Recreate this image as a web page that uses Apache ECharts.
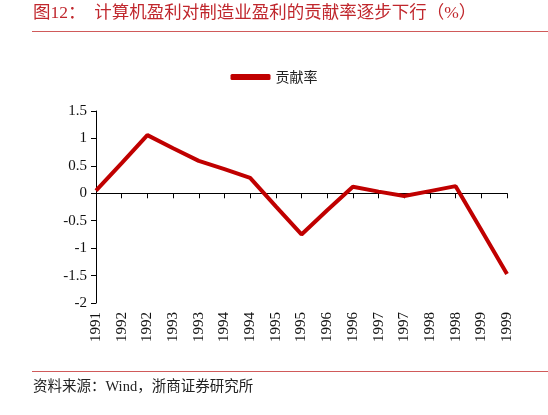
<!DOCTYPE html>
<html>
<head>
<meta charset="utf-8">
<script src="https://cdn.jsdelivr.net/npm/echarts@6/dist/echarts.min.js"></script>
<style>
html,body{margin:0;padding:0;background:#fff;}
#c{width:548px;height:415px;}
</style>
</head>
<body>
<div id="c"></div>
<script>
const categories = ['1991','1992','1992','1993','1993','1994','1994','1995','1995','1996','1996','1997','1997','1998','1998','1999','1999'];
const seriesName = '贡献率';
const values = [0.05, 0.55, 1.06, 0.82, 0.59, 0.44, 0.28, -0.24, -0.75, -0.31, 0.12, 0.03, -0.05, 0.04, 0.13, -0.67, -1.47];
const titleText = '图12：  计算机盈利对制造业盈利的贡献率逐步下行（%）';
const sourceText = '资料来源：Wind，浙商证券研究所';

const chart = echarts.init(document.getElementById('c'));
const serif = '"Liberation Serif", "Noto Sans CJK SC", serif';
chart.setOption({
  animation: false,
  backgroundColor: '#fff',
  graphic: [
    {type: 'text', left: 33, top: 5, style: {text: titleText, fill: '#c0272d', font: '17.5px "Liberation Serif", "Noto Sans CJK SC", serif'}},
    {type: 'line', shape: {x1: 32, y1: 31.5, x2: 548, y2: 31.5}, style: {stroke: '#d05a5a', lineWidth: 1.2}},
    {type: 'line', shape: {x1: 32, y1: 371.5, x2: 548, y2: 371.5}, style: {stroke: '#d05a5a', lineWidth: 1.2}},
    {type: 'text', left: 33, top: 380, style: {text: sourceText, fill: '#222', font: '14.5px "Liberation Serif", "Noto Sans CJK SC", serif'}}
  ],
  legend: {
    top: 65,
    left: 'center',
    icon: 'roundRect',
    itemWidth: 40,
    itemHeight: 6,
    itemGap: 4,
    textStyle: {fontFamily: '"Noto Sans CJK SC", serif', fontSize: 14, color: '#222'},
    data: [seriesName]
  },
  grid: {left: 96, right: 41, top: 111, bottom: 112, containLabel: false},
  xAxis: [
    {
      type: 'category', data: categories, boundaryGap: false, position: 'bottom',
      axisLine: {show: false, onZero: false}, axisTick: {show: false},
      axisLabel: {rotate: 90, interval: 0, margin: 9, color: '#111', fontFamily: serif, fontSize: 15}
    },
    {
      type: 'category', data: categories, boundaryGap: false, position: 'bottom',
      axisLine: {show: true, onZero: true, lineStyle: {color: '#000', width: 1}},
      axisTick: {show: true, interval: 0, inside: false, length: 5, lineStyle: {color: '#000'}},
      axisLabel: {show: false}
    }
  ],
  yAxis: {
    type: 'value', min: -2, max: 1.5, interval: 0.5,
    axisLine: {show: true, lineStyle: {color: '#000'}},
    axisTick: {show: true, length: 5, lineStyle: {color: '#000'}},
    splitLine: {show: false},
    axisLabel: {color: '#111', fontFamily: serif, fontSize: 15, margin: 9}
  },
  series: [{
    name: seriesName, type: 'line', data: values, xAxisIndex: 0,
    symbol: 'none', lineStyle: {color: '#c00000', width: 4}, itemStyle: {color: '#c00000'}
  }]
});
</script>
</body>
</html>
